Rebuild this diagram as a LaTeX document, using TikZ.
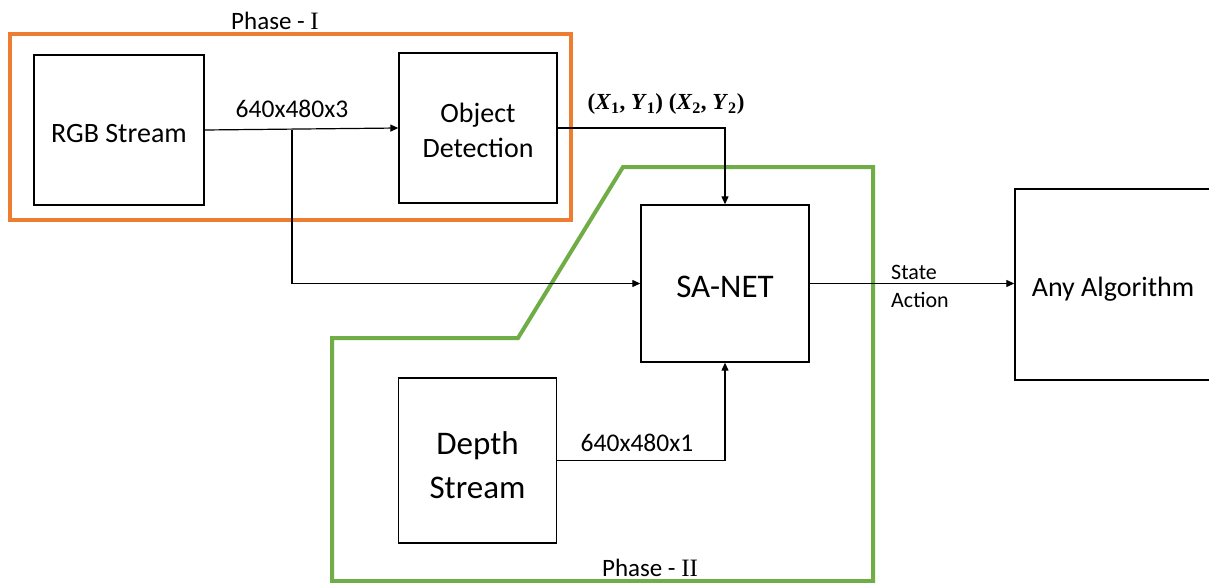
\documentclass[tikz,border=0pt]{standalone}
\usepackage{fontspec}
\setmainfont{Carlito}
\newfontfamily\romnum{Liberation Serif}
\usetikzlibrary{arrows.meta}
\definecolor{phaseorange}{HTML}{ED7D31}
\definecolor{phasegreen}{HTML}{70AD47}
\newcommand\cvar[2]{\textit{#1}\textsubscript{#2}}
\newcommand\boxcoords{{\romnum\bfseries (\cvar{X}{1}, \cvar{Y}{1}) (\cvar{X}{2}, \cvar{Y}{2})}}
% lower a line of text without changing its reported size
\newcommand\dn[2]{\raisebox{-#1}[\height][\depth]{#2}}
\tikzset{
  blockbox/.style={draw=black, line width=1.4pt, inner sep=0pt, align=center},
  conn/.style={draw=black, line width=1.2pt},
  flow/.style={conn, -{Triangle[length=8pt,width=7pt]}},
  phaseframe/.style={line width=4pt, line join=miter},
  lbl/.style={inner sep=0pt, font=\fontsize{25.5}{28}\selectfont},
  phaselbl/.style={inner sep=0pt, font=\fontsize{25}{28}\selectfont}
}
\begin{document}
\begin{tikzpicture}[x=1pt, y=-1pt]
  \clip (0,0) rectangle (1209,583);
  \fill[white] (0,0) rectangle (1209,583);

  % phase frames
  \draw[phaseframe, phaseorange] (10,34) rectangle (571,220);
  \draw[phaseframe, phasegreen] (332,583) -- (332,338) -- (518,338) -- (623,167) -- (873,167) -- (873,583);
  \draw[phaseframe, phasegreen] (330,581) -- (875,581);

  % blocks
  \node[blockbox, minimum width=170pt, minimum height=150pt, font=\fontsize{28}{34}\selectfont] (rgb) at (119,130) {\dn{3.5pt}{RGB Stream}};
  \node[blockbox, minimum width=158pt, minimum height=150pt, font=\fontsize{28}{35}\selectfont] (obj) at (478,128) {\dn{2pt}{Object}\\\dn{2pt}{Detection}};
  \node[blockbox, minimum width=168pt, minimum height=157pt, font=\fontsize{33}{40}\selectfont] (sanet) at (725,283.5) {\dn{3pt}{SA-NET}};
  \node[blockbox, minimum width=158pt, minimum height=165pt, font=\fontsize{33}{44}\selectfont] (depth) at (477.5,460.5) {\dn{4.5pt}{Depth}\\\dn{4.5pt}{Stream}};
  \node[blockbox, minimum width=196pt, minimum height=191pt, font=\fontsize{28}{34}\selectfont] (algo) at (1113,284.5) {\dn{4.5pt}{Any Algorithm}};

  % connectors
  \coordinate (split) at (292,129.5);
  \draw[flow] (rgb.east) -- (obj.west);
  \draw[flow] (split) |- (sanet.west);
  \draw[flow] (obj.east) -| (sanet.north);
  \draw[flow] (depth.east) -| (sanet.south);
  \draw[flow] (sanet.east) -- (sanet.east -| algo.west);

  % labels
  \node[lbl] (lrgb) at (292,109) {640x480x3};
  \node[lbl] (ldepth) at (637,443) {640x480x1};
  \node[inner sep=0pt, font=\fontsize{23}{26}\selectfont] (lbox) at (666,104) {\boxcoords};
  \node[inner sep=0pt, anchor=west, align=left, font=\fontsize{22}{28}\selectfont] (lsa) at (891,286) {State\\Action};
  \node[phaselbl] (p1) at (275,21) {Phase - {\romnum I}};
  \node[phaselbl] (p2) at (650,568) {Phase - {\romnum II}};
\end{tikzpicture}
\end{document}
